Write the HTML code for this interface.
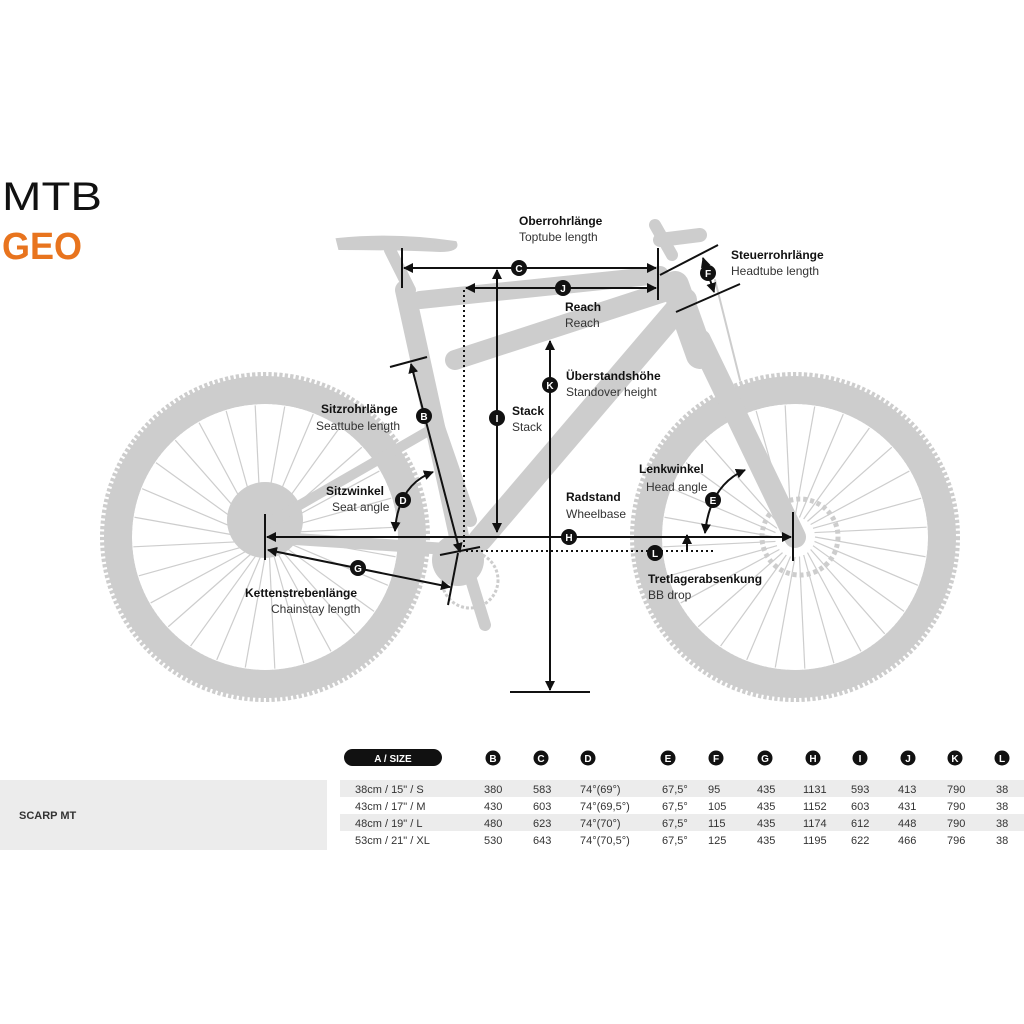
<!DOCTYPE html>
<html><head><meta charset="utf-8"><style>
html,body{margin:0;padding:0;background:#fff;}
body{width:1024px;height:1024px;overflow:hidden;position:relative;font-family:"Liberation Sans",sans-serif;}
svg{position:absolute;left:0;top:0;}
.b{font-family:"Liberation Sans Narrow","Liberation Sans",sans-serif;font-weight:bold;font-size:12px;fill:#111;}
.n{font-family:"Liberation Sans Narrow","Liberation Sans",sans-serif;font-size:12px;fill:#333;}
.t{font-family:"Liberation Sans Narrow","Liberation Sans",sans-serif;font-size:11px;fill:#333;}
.cl{font-family:"Liberation Sans",sans-serif;font-weight:bold;font-size:10px;fill:#fff;text-anchor:middle;}
</style></head><body>
<svg id="s" width="1024" height="1024" viewBox="0 0 1024 1024">
<defs>
<marker id="a" viewBox="0 0 10 10" refX="9" refY="5" markerWidth="5" markerHeight="5" orient="auto-start-reverse"><path d="M0,0L10,5L0,10z" fill="#111"/></marker>
</defs>
<text x="2" y="210" font-family="Liberation Sans" font-size="40" fill="#111" textLength="100" lengthAdjust="spacingAndGlyphs">MTB</text>
<text x="2" y="259" font-family="Liberation Sans" font-weight="bold" font-size="38" fill="#e8741e" textLength="80" lengthAdjust="spacingAndGlyphs">GEO</text>

<g id="bike" fill="none" stroke="#cdcdcd">
<circle cx="265" cy="537" r="149" stroke-width="32" stroke-dasharray="3 2"/>
<circle cx="265" cy="537" r="147" stroke-width="28"/>
<circle cx="795" cy="537" r="149" stroke-width="32" stroke-dasharray="3 2"/>
<circle cx="795" cy="537" r="147" stroke-width="28"/>
<g id="sp" stroke-width="1.2"></g>
<circle cx="265" cy="520" r="38" fill="#cdcdcd" stroke="none"/>
<circle cx="800" cy="537" r="38" stroke-width="5" stroke-dasharray="4 3"/>
<g stroke-linecap="round">
<line x1="462" y1="550" x2="405" y2="290" stroke-width="20"/>
<line x1="410" y1="290" x2="390" y2="250" stroke-width="12"/>
<line x1="420" y1="300" x2="660" y2="275" stroke-width="18"/>
<line x1="455" y1="360" x2="670" y2="290" stroke-width="20"/>
<line x1="480" y1="540" x2="685" y2="300" stroke-width="24"/>
<line x1="675" y1="285" x2="700" y2="355" stroke-width="28"/>
<line x1="700" y1="340" x2="795" y2="537" stroke-width="22"/>
<line x1="660" y1="240" x2="700" y2="235" stroke-width="14"/>
<line x1="655" y1="225" x2="672" y2="255" stroke-width="12"/>
<line x1="265" y1="537" x2="462" y2="550" stroke-width="12"/>
<line x1="265" y1="525" x2="430" y2="430" stroke-width="10"/>
<line x1="420" y1="375" x2="470" y2="520" stroke-width="14"/>
<line x1="465" y1="560" x2="485" y2="625" stroke-width="12"/>
<line x1="715" y1="280" x2="740" y2="380" stroke-width="2"/>
</g>
<path d="M338,240 Q395,234 455,243 Q458,250 440,250 Q395,248 340,248 Z" fill="#cdcdcd" stroke-width="4"/>
<circle cx="458" cy="560" r="26" fill="#cdcdcd" stroke="none"/>
<circle cx="470" cy="580" r="28" stroke-width="3" stroke-dasharray="3 2"/>
</g>

<g stroke="#111" stroke-width="2" fill="none">
<line x1="402" y1="248" x2="402" y2="288"/><line x1="658" y1="248" x2="658" y2="300"/>
<line x1="404" y1="268" x2="656" y2="268" marker-start="url(#a)" marker-end="url(#a)"/>
<line x1="466" y1="288" x2="656" y2="288" marker-start="url(#a)" marker-end="url(#a)"/>
<line x1="464" y1="290" x2="464" y2="550" stroke-dasharray="2 3"/>
<line x1="497" y1="270" x2="497" y2="532" marker-start="url(#a)" marker-end="url(#a)"/>
<line x1="550" y1="341" x2="550" y2="690" marker-start="url(#a)" marker-end="url(#a)"/>
<line x1="510" y1="692" x2="590" y2="692"/>
<line x1="265" y1="514" x2="265" y2="560"/><line x1="793" y1="512" x2="793" y2="561"/>
<line x1="267" y1="537" x2="791" y2="537" marker-start="url(#a)" marker-end="url(#a)"/>
<line x1="466" y1="551" x2="715" y2="551" stroke-dasharray="2 3"/>
<line x1="687" y1="550" x2="687" y2="535" marker-end="url(#a)"/>
<line x1="390" y1="367" x2="427" y2="357"/>
<line x1="411" y1="364" x2="460" y2="552" marker-start="url(#a)" marker-end="url(#a)"/>
<line x1="440" y1="555" x2="480" y2="547"/>
<line x1="268" y1="550" x2="450" y2="587" marker-start="url(#a)" marker-end="url(#a)"/>
<line x1="458" y1="553" x2="448" y2="605"/>
<path d="M395,531 Q398,485 433,472" marker-start="url(#a)" marker-end="url(#a)"/>
<path d="M705,533 Q710,485 745,470" marker-start="url(#a)" marker-end="url(#a)"/>
<line x1="660" y1="275" x2="718" y2="245"/><line x1="676" y1="312" x2="740" y2="284"/>
<line x1="703" y1="258" x2="714" y2="292" marker-start="url(#a)" marker-end="url(#a)"/>
</g>

<g fill="#111">
<circle cx="519" cy="268" r="8"/><circle cx="563" cy="288" r="8"/><circle cx="497" cy="418" r="8"/>
<circle cx="550" cy="385" r="8"/><circle cx="569" cy="537" r="8"/><circle cx="655" cy="553" r="8"/>
<circle cx="424" cy="416" r="8"/><circle cx="403" cy="500" r="8"/><circle cx="358" cy="568" r="8"/>
<circle cx="713" cy="500" r="8"/><circle cx="708" cy="273" r="8"/>
</g>
<g class="cl">
<text x="519" y="272">C</text><text x="563" y="292">J</text><text x="497" y="422">I</text>
<text x="550" y="389">K</text><text x="569" y="541">H</text><text x="655" y="557">L</text>
<text x="424" y="420">B</text><text x="403" y="504">D</text><text x="358" y="572">G</text>
<text x="713" y="504">E</text><text x="708" y="277">F</text>
</g>

<text class="b" x="519" y="225">Oberrohrlänge</text><text class="n" x="519" y="241">Toptube length</text>
<text class="b" x="731" y="259">Steuerrohrlänge</text><text class="n" x="731" y="275">Headtube length</text>
<text class="b" x="565" y="311">Reach</text><text class="n" x="565" y="327">Reach</text>
<text class="b" x="566" y="380">Überstandshöhe</text><text class="n" x="566" y="396">Standover height</text>
<text class="b" x="512" y="415">Stack</text><text class="n" x="512" y="431">Stack</text>
<text class="b" x="321" y="413">Sitzrohrlänge</text><text class="n" x="316" y="430">Seattube length</text>
<text class="b" x="326" y="495">Sitzwinkel</text><text class="n" x="332" y="511">Seat angle</text>
<text class="b" x="566" y="501">Radstand</text><text class="n" x="566" y="518">Wheelbase</text>
<text class="b" x="639" y="473">Lenkwinkel</text><text class="n" x="646" y="491">Head angle</text>
<text class="b" x="648" y="583">Tretlagerabsenkung</text><text class="n" x="648" y="599">BB drop</text>
<text class="b" x="245" y="597">Kettenstrebenlänge</text><text class="n" x="271" y="613">Chainstay length</text>

<rect x="0" y="780" width="327" height="70" fill="#ececec"/>
<rect x="340" y="780" width="684" height="17" fill="#ececec"/>
<rect x="340" y="814" width="684" height="17" fill="#ececec"/>
<text class="t" x="19" y="819" font-weight="bold">SCARP MT</text>
<rect x="344" y="749" width="98" height="17" rx="8.5" fill="#111"/>
<text x="393" y="762" class="cl" font-size="11">A / SIZE</text>
<g fill="#111" id="hc"></g>
<g id="tb"></g>
</svg>
<script>
var NS="http://www.w3.org/2000/svg",s=document.getElementById("s");
function el(p,t,a,txt){var e=document.createElementNS(NS,t);for(var k in a)e.setAttribute(k,a[k]);if(txt)e.textContent=txt;p.appendChild(e);return e;}
var sp=document.getElementById("sp");
[[265,537],[795,537]].forEach(function(c){for(var i=0;i<28;i++){var a=i*Math.PI*2/28;el(sp,"line",{x1:c[0]+20*Math.cos(a),y1:c[1]+20*Math.sin(a),x2:c[0]+132*Math.cos(a+0.15),y2:c[1]+132*Math.sin(a+0.15)});}});
var hx=[493,541,588,668,716,765,813,860,908,955,1002],L="BCDEFGHIJKL".split("");
var hc=document.getElementById("hc");
hx.forEach(function(x,i){el(hc,"circle",{cx:x,cy:758,r:7.5});el(s,"text",{x:x,y:762,"class":"cl"},L[i]);});
var rows=[["38cm / 15\" / S","380","583","74°(69°)","67,5°","95","435","1131","593","413","790","38"],
["43cm / 17\" / M","430","603","74°(69,5°)","67,5°","105","435","1152","603","431","790","38"],
["48cm / 19\" / L","480","623","74°(70°)","67,5°","115","435","1174","612","448","790","38"],
["53cm / 21\" / XL","530","643","74°(70,5°)","67,5°","125","435","1195","622","466","796","38"]];
var cx=[355,484,533,580,662,708,757,803,851,898,947,996],tb=document.getElementById("tb");
rows.forEach(function(r,j){r.forEach(function(v,i){el(tb,"text",{x:cx[i],y:793+j*17,"class":"t"},v);});});
</script>
</body></html>
